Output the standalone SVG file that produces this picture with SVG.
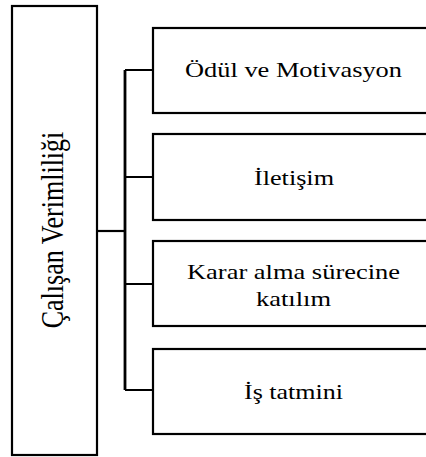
<svg xmlns="http://www.w3.org/2000/svg" width="426" height="457" viewBox="0 0 426 457">
<style>
.box{fill:#fff;stroke:#000;stroke-width:2.2}
.ln{fill:none;stroke:#000;stroke-width:2.2}
text{font-family:"Liberation Serif","Times New Roman",serif;fill:#000;text-anchor:middle}
.t{font-size:22px}
.tv{font-size:26px}
</style>
<rect width="426" height="457" fill="#fff"/>
<g id="connectors">
<path class="ln" d="M97 231 H125"/>
<path class="ln" d="M125 70 V390" style="stroke-width:2.8"/>
<path class="ln" d="M125 70 H153 M125 177 H153 M125 284 H153 M125 390 H153"/>
</g>
<g id="node-calisan">
<rect class="box" x="12" y="6" width="85" height="449"/>
<text class="tv" transform="translate(63,230) scale(1.2,1) rotate(-90)">Çalışan Verimliliği</text>
</g>
<g id="node-odul">
<rect class="box" x="153" y="28" width="281" height="85"/>
<text class="t" x="293.5" y="77" textLength="217" lengthAdjust="spacingAndGlyphs">Ödül ve Motivasyon</text>
</g>
<g id="node-iletisim">
<rect class="box" x="153" y="134" width="281" height="86"/>
<text class="t" x="294" y="185" textLength="80" lengthAdjust="spacingAndGlyphs">İletişim</text>
</g>
<g id="node-karar">
<rect class="box" x="153" y="241" width="281" height="85"/>
<text class="t" x="293.5" y="279" textLength="213" lengthAdjust="spacingAndGlyphs">Karar alma sürecine</text>
<text class="t" x="293.5" y="306" textLength="75" lengthAdjust="spacingAndGlyphs">katılım</text>
</g>
<g id="node-is">
<rect class="box" x="153" y="349" width="281" height="85"/>
<text class="t" x="293.5" y="399" textLength="99" lengthAdjust="spacingAndGlyphs">İş tatmini</text>
</g>
</svg>
